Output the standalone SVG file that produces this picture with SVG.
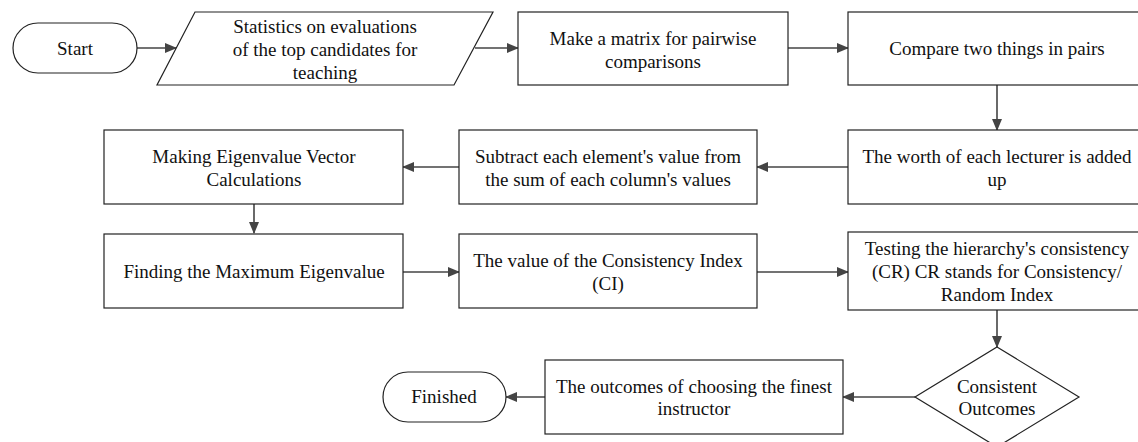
<svg xmlns="http://www.w3.org/2000/svg" width="1138" height="442" viewBox="0 0 1138 442">
<style>
.n{fill:#fff;stroke:#222;stroke-width:1.2}
.t{font-family:'Liberation Serif','Times New Roman',serif;font-size:19px;fill:#111;text-anchor:middle}
.c{stroke:#444;stroke-width:1.6;fill:none;marker-end:url(#ah)}
</style>
<defs>
<marker id="ah" markerWidth="12" markerHeight="10" refX="11" refY="5" orient="auto" markerUnits="userSpaceOnUse">
<path d="M0,0 L12,5 L0,10 Z" fill="#444"/>
</marker>
</defs>
<rect width="1138" height="442" fill="#fff"/>
<g id="connectors">
<line class="c" x1="137" y1="48" x2="176" y2="48"/>
<line class="c" x1="475" y1="48" x2="518" y2="48"/>
<line class="c" x1="788" y1="48" x2="848" y2="48"/>
<line class="c" x1="997" y1="85" x2="997" y2="130"/>
<line class="c" x1="848" y1="167" x2="757" y2="167"/>
<line class="c" x1="459" y1="167" x2="403" y2="167"/>
<line class="c" x1="254" y1="204" x2="254" y2="233"/>
<line class="c" x1="403" y1="272" x2="459" y2="272"/>
<line class="c" x1="757" y1="272" x2="848" y2="272"/>
<line class="c" x1="997" y1="310" x2="997" y2="347"/>
<line class="c" x1="915" y1="397" x2="843" y2="397"/>
<line class="c" x1="545" y1="397" x2="506" y2="397"/>
</g>
<g id="start">
<rect class="n" x="13" y="23" width="124" height="50" rx="25"/>
<text class="t" x="75" y="55">Start</text>
</g>
<g id="statistics">
<polygon class="n" points="195,12 493,12 454,85 157,85"/>
<text class="t" x="325" y="33">Statistics on evaluations</text>
<text class="t" x="325" y="56">of the top candidates for</text>
<text class="t" x="325" y="79">teaching</text>
</g>
<g id="matrix">
<rect class="n" x="518" y="12" width="270" height="73"/>
<text class="t" x="653" y="45">Make a matrix for pairwise</text>
<text class="t" x="653" y="68">comparisons</text>
</g>
<g id="compare">
<rect class="n" x="848" y="12" width="298" height="73"/>
<text class="t" x="997" y="55">Compare two things in pairs</text>
</g>
<g id="worth">
<rect class="n" x="848" y="130" width="298" height="74"/>
<text class="t" x="997" y="163">The worth of each lecturer is added</text>
<text class="t" x="997" y="186">up</text>
</g>
<g id="subtract">
<rect class="n" x="459" y="130" width="298" height="74"/>
<text class="t" x="608" y="163">Subtract each element's value from</text>
<text class="t" x="608" y="186">the sum of each column's values</text>
</g>
<g id="eigenvector">
<rect class="n" x="104" y="130" width="299" height="74"/>
<text class="t" x="254" y="163">Making Eigenvalue Vector</text>
<text class="t" x="254" y="186">Calculations</text>
</g>
<g id="maxeigen">
<rect class="n" x="104" y="234" width="299" height="74"/>
<text class="t" x="254" y="278">Finding the Maximum Eigenvalue</text>
</g>
<g id="ci">
<rect class="n" x="459" y="234" width="298" height="74"/>
<text class="t" x="608" y="267">The value of the Consistency Index</text>
<text class="t" x="608" y="290">(CI)</text>
</g>
<g id="cr">
<rect class="n" x="848" y="232" width="298" height="78"/>
<text class="t" x="997" y="255">Testing the hierarchy's consistency</text>
<text class="t" x="997" y="278">(CR) CR stands for Consistency/</text>
<text class="t" x="997" y="301">Random Index</text>
</g>
<g id="decision">
<polygon class="n" points="997,347 1079,397 997,447 915,397"/>
<text class="t" x="997" y="393">Consistent</text>
<text class="t" x="997" y="415">Outcomes</text>
</g>
<g id="outcomes">
<rect class="n" x="545" y="360" width="298" height="74"/>
<text class="t" x="694" y="393">The outcomes of choosing the finest</text>
<text class="t" x="694" y="415">instructor</text>
</g>
<g id="finished">
<rect class="n" x="383" y="372" width="123" height="50" rx="25"/>
<text class="t" x="444" y="403">Finished</text>
</g>
</svg>
